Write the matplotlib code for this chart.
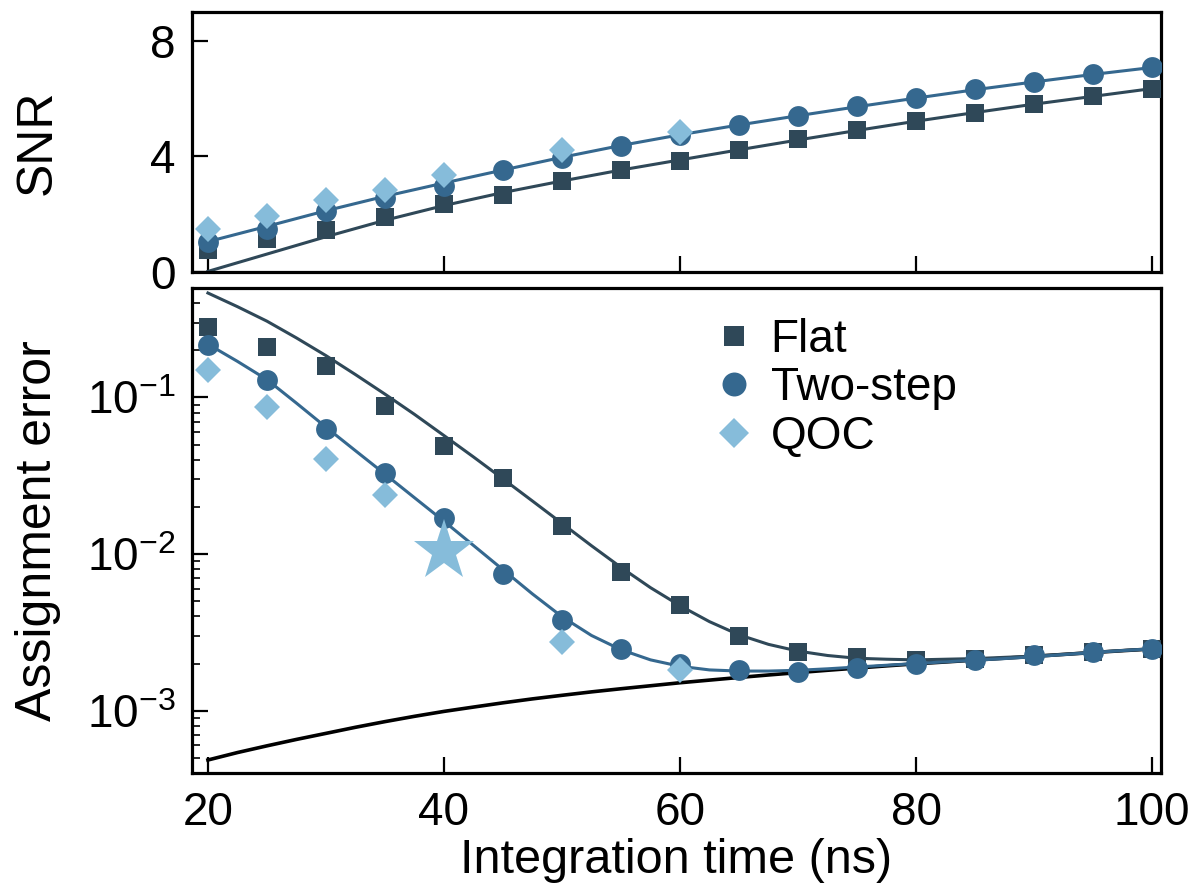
import numpy as np
import matplotlib
matplotlib.use('Agg')
import matplotlib.pyplot as plt

plt.rcParams['font.family'] = ['Liberation Sans', 'DejaVu Sans']
plt.rcParams['mathtext.fontset'] = 'custom'
plt.rcParams['mathtext.rm'] = 'Liberation Sans'

# integration time (ns)
t = [20, 25, 30, 35, 40, 45, 50, 55, 60, 65, 70, 75, 80, 85, 90, 95, 100]
t_qoc = [20, 25, 30, 35, 40, 50, 60]
t_qoc_err = [20, 25, 30, 35, 50, 60]
t_fit = [20, 22.5, 25, 27.5, 30, 32.5, 35, 37.5, 40, 42.5, 45, 47.5, 50, 52.5, 55, 57.5, 60,
         62.5, 65, 67.5, 70, 72.5, 75, 77.5, 80, 82.5, 85, 87.5, 90, 92.5, 95, 97.5, 100]

# SNR (top panel)
snr_flat = [0.77, 1.14, 1.46, 1.92, 2.37, 2.68, 3.14, 3.52, 3.84, 4.24, 4.59, 4.90, 5.23, 5.52, 5.83, 6.08, 6.35]
snr_two = [1.05, 1.48, 2.10, 2.56, 2.97, 3.52, 3.95, 4.36, 4.74, 5.09, 5.40, 5.73, 6.04, 6.33, 6.59, 6.85, 7.08]
snr_qoc = [1.48, 1.95, 2.50, 2.83, 3.37, 4.22, 4.85]
snr_flat_fit = [0.02, 0.62, 1.22, 1.79, 2.30, 2.75, 3.15, 3.53, 3.88, 4.23, 4.57, 4.90, 5.22, 5.52, 5.81, 6.08, 6.35]
snr_two_fit = [1.05, 1.58, 2.12, 2.62, 3.08, 3.53, 3.97, 4.38, 4.75, 5.09, 5.41, 5.72, 6.02, 6.31, 6.58, 6.84, 7.08]

# assignment error (bottom panel)
err_flat = [0.281, 0.21, 0.158, 0.0876, 0.0489, 0.0305, 0.0150, 0.00766, 0.00475, 0.00300, 0.00238, 0.00220,
            0.00212, 0.00215, 0.00228, 0.00237, 0.00248]
err_two = [0.215, 0.130, 0.063, 0.0328, 0.0170, 0.00746, 0.00378, 0.00248, 0.00198, 0.00181, 0.00177, 0.00186,
           0.00199, 0.00210, 0.00226, 0.00236, 0.00248]
err_qoc = [0.150, 0.0867, 0.0405, 0.0237, 0.00276, 0.00182]
err_flat_fit = [0.4645, 0.380, 0.307, 0.240, 0.185, 0.140, 0.105, 0.0780, 0.0571, 0.0417, 0.0302, 0.0218,
                0.0157, 0.0113, 0.00822, 0.00610, 0.00468, 0.00370, 0.00305, 0.00265, 0.00240, 0.00225,
                0.00216, 0.00213, 0.00211, 0.00213, 0.00215, 0.00219, 0.00223, 0.00229, 0.00236, 0.00242, 0.00248]
err_two_fit = [0.219, 0.170, 0.130, 0.092, 0.0646, 0.0457, 0.0324, 0.0229, 0.0162, 0.01135, 0.00794, 0.00556,
               0.00398, 0.00302, 0.00245, 0.00211, 0.00192, 0.00182, 0.00179, 0.00179, 0.00181, 0.00185,
               0.00190, 0.00195, 0.00200, 0.00205, 0.00210, 0.00215, 0.00221, 0.00228, 0.00235, 0.00242, 0.00248]
err_limit = [4.84e-4, 5.40e-4, 5.96e-4, 6.55e-4, 7.16e-4, 7.83e-4, 8.51e-4, 9.20e-4, 9.89e-4, 1.054e-3,
             1.122e-3, 1.189e-3, 1.253e-3, 1.318e-3, 1.380e-3, 1.442e-3, 1.507e-3, 1.567e-3, 1.629e-3,
             1.690e-3, 1.750e-3, 1.811e-3, 1.871e-3, 1.932e-3, 1.991e-3, 2.046e-3, 2.104e-3, 2.163e-3,
             2.223e-3, 2.286e-3, 2.350e-3, 2.415e-3, 2.477e-3]
star_t = [40]
star_err = [0.0105]

c_flat = '#2f4858'
c_two = '#35688f'
c_qoc = '#86bcda'

fig = plt.figure(figsize=(11.97, 8.9), dpi=100)
ax1 = fig.add_axes([0.1604, 0.6944, 0.8095, 0.2921])
ax2 = fig.add_axes([0.1604, 0.1315, 0.8095, 0.5449])

# top: SNR
ax1.plot(t, snr_flat_fit, color=c_flat, lw=2.2, zorder=2)
ax1.plot(t, snr_two_fit, color=c_two, lw=2.2, zorder=2)
ax1.plot(t, snr_flat, 's', color=c_flat, ms=12.5, mew=0, zorder=3)
ax1.plot(t, snr_two, 'o', color=c_two, ms=15, mew=0, zorder=4)
ax1.plot(t_qoc, snr_qoc, 'D', color=c_qoc, ms=13.5, mew=0, zorder=5)
ax1.set_ylim(0, 9)
ax1.set_yticks([0, 4, 8])
ax1.set_ylabel('SNR', fontsize=36)
ax1.tick_params(labelbottom=False)

# bottom: assignment error
ax2.plot(t_fit, err_limit, color='black', lw=2.6, zorder=2)
ax2.plot(t_fit, err_flat_fit, color=c_flat, lw=2.2, zorder=2)
ax2.plot(t_fit, err_two_fit, color=c_two, lw=2.2, zorder=2)
ax2.plot(t, err_flat, 's', color=c_flat, ms=12.5, mew=0, zorder=3, label='Flat')
ax2.plot(t, err_two, 'o', color=c_two, ms=15, mew=0, zorder=4, label='Two-step')
ax2.plot(t_qoc_err, err_qoc, 'D', color=c_qoc, ms=13.5, mew=0, zorder=5, label='QOC')
ax2.plot(star_t, star_err, '*', color=c_qoc, ms=46, mew=0, zorder=6)
ax2.set_yscale('log')
ax2.set_ylim(4e-4, 0.5)
ax2.set_xlabel('Integration time (ns)', fontsize=35, labelpad=2)
ax2.set_ylabel('Assignment error', fontsize=36)
ax2.legend(loc='upper left', bbox_to_anchor=(0.505, 1.0), frameon=False, fontsize=33,
           handletextpad=0.3, labelspacing=0.1, handlelength=1.0, borderaxespad=0.25, markerscale=1.15)

for ax in (ax1, ax2):
    ax.set_xlim(18.65, 100.75)
    ax.set_xticks([20, 40, 60, 80, 100])
    for s in ax.spines.values():
        s.set_linewidth(2.3)
    ax.tick_params(which='major', direction='in', length=11.5, width=1.6, labelsize=33)
    ax.tick_params(axis='y', pad=12)
    ax.tick_params(axis='x', pad=13)
    ax.yaxis.set_label_coords(-0.135, 0.5)
ax2.tick_params(which='minor', direction='in', length=5.5, width=1.2)

fig.savefig('out.png', dpi=100)
